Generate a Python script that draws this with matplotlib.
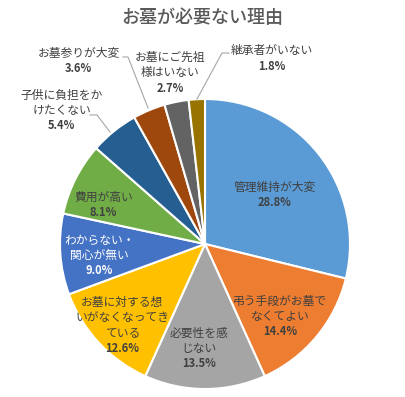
import matplotlib
matplotlib.use("Agg")
import matplotlib.pyplot as plt

plt.rcParams['font.family'] = ['Noto Sans CJK JP', 'DejaVu Sans']

title = "お墓が必要ない理由"
categories = ["管理維持が大変", "弔う手段がお墓でなくてよい", "必要性を感じない",
              "お墓に対する想いがなくなってきている", "わからない・関心が無い", "費用が高い",
              "子供に負担をかけたくない", "お墓参りが大変", "お墓にご先祖様はいない", "継承者がいない"]
values = [28.8, 14.4, 13.5, 12.6, 9.0, 8.1, 5.4, 3.6, 2.7, 1.8]

# styling / layout
colors = ["#5B9BD5", "#ED7D31", "#A5A5A5", "#FFC000", "#4472C4", "#70AD47",
          "#255E91", "#9E480E", "#636363", "#997300"]
label_lines = ["管理維持が大変", "弔う手段がお墓で\nなくてよい", "必要性を感\nじない",
               "お墓に対する想\nいがなくなってき\nている", "わからない・\n関心が無い", "費用が高い",
               "子供に負担をか\nけたくない", "お墓参りが大変", "お墓にご先祖\n様はいない", "継承者がいない"]
label_pos = [(0.48, 0.34), (0.52, -0.50), (-0.04, -0.72), (-0.57, -0.56), (-0.73, -0.08),
             (-0.70, 0.27), (-0.99, 0.92), (-0.87, 1.26), (-0.24, 1.18), (0.46, 1.28)]
text_colors = ["#404040"] * 10
text_colors[4] = "white"
leaders = {
    9: [(-0.055, 1.0), (0.117, 1.317), (0.166, 1.317)],
    7: [(-0.393, 0.938), (-0.531, 1.290), (-0.566, 1.290)],
    6: [(-0.655, 0.772), (-0.745, 0.890), (-0.793, 0.890)],
}

fig = plt.figure(figsize=(4.05, 3.97), dpi=100)
ax = fig.add_axes([0, 0, 1, 1])
ax.pie(values, colors=colors, startangle=90, counterclock=False, radius=1,
       wedgeprops=dict(edgecolor="white", linewidth=1.5))
ax.set_xlim(-205 / 145, 200 / 145)
ax.set_ylim(-153 / 145, 244 / 145)
ax.set_aspect('auto')
ax.axis('off')

for i, (lab, v) in enumerate(zip(label_lines, values)):
    x, y = label_pos[i]
    n = lab.count("\n") + 1
    lh = 0.105
    top = y + n * lh / 2
    for j, line in enumerate(lab.split("\n")):
        ax.text(x, top - j * lh, line, ha='center', va='center', fontsize=8.5,
                color=text_colors[i])
    ax.text(x, top - n * lh, f"{v:.1f}%", ha='center', va='center', fontsize=8,
            fontweight='bold', color=text_colors[i])

for i, pts in leaders.items():
    xs, ys = zip(*pts)
    ax.plot(xs, ys, color="#A6A6A6", linewidth=0.8)

ax.text((202 - 205) / 145, (244 - 18) / 145, title, ha='center', va='center',
        fontsize=13, color="#595959", fontweight='medium')

fig.savefig("out.png", dpi=100)
